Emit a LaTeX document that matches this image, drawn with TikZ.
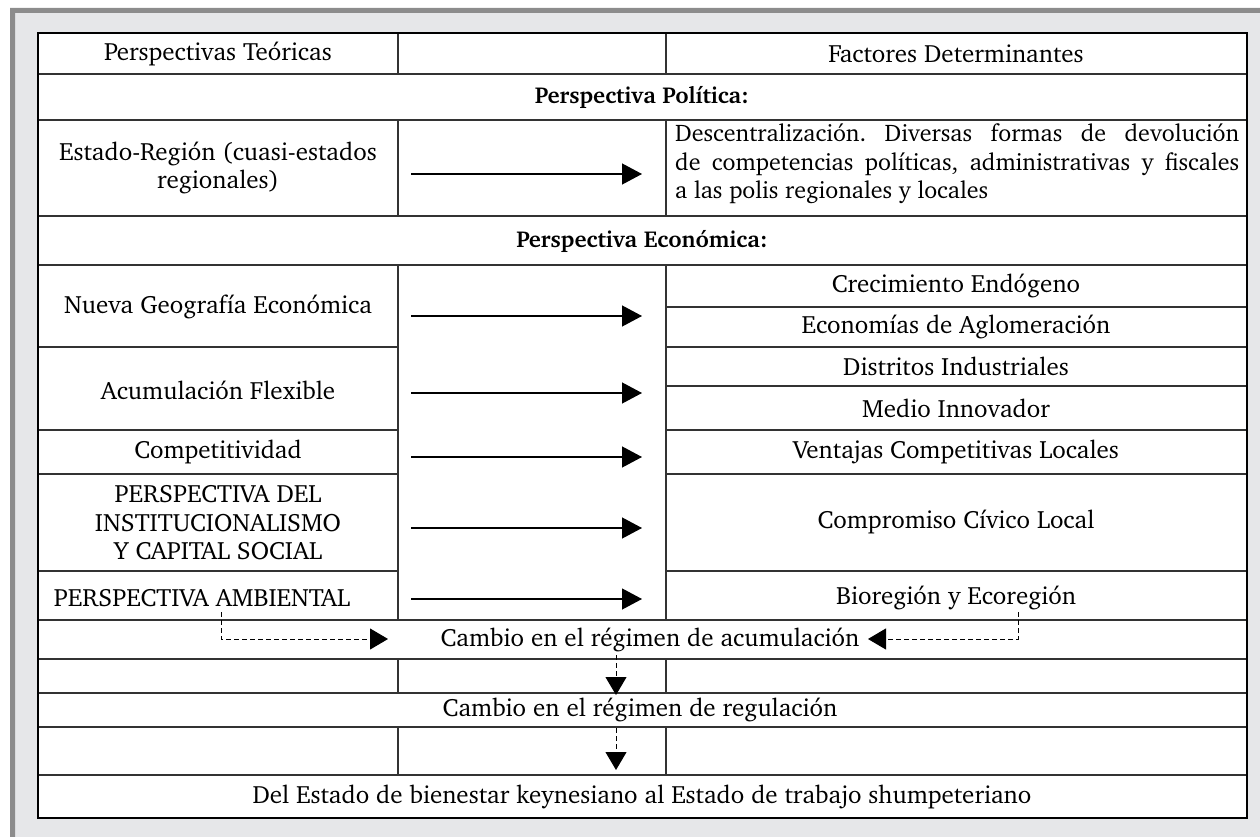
\documentclass[tikz,border=0pt]{standalone}
\usepackage[T1]{fontenc}
\usepackage{charter}
\usetikzlibrary{arrows.meta}

\definecolor{marco}{HTML}{8C8C8C}
\definecolor{fondo}{HTML}{E6E7E9}
\definecolor{linea}{HTML}{333333}

\tikzset{
  celda/.style={font=\fontsize{25}{28.5}\selectfont, align=center, inner sep=0pt},
  titulo/.style={celda, font=\fontsize{23}{28.5}\selectfont\bfseries},
  rejilla/.style={line width=1.1pt, draw=linea},
  flecha/.style={line width=1.2pt, -{Triangle[length=20pt,width=21pt]}},
  punteada/.style={line width=1pt, dash pattern=on 5pt off 3pt, -{Triangle[length=18pt,width=21pt]}}
}

\begin{document}
\frenchspacing
\begin{tikzpicture}[x=1pt,y=-1pt]

\useasboundingbox (0,0) rectangle (1260,837);

% marco gris
\fill[fondo] (10,8) rectangle (1260,837);
\fill[marco] (10,8) rectangle (1260,13)  (10,8) rectangle (15,837);
\fill[white] (38,33) rectangle (1247,818);

% rejilla de la tabla
\foreach \y in {74,120,216,265,620,659,693,727,775} \draw[rejilla] (38,\y) -- (1247,\y);
\foreach \y in {347,430,474,571} \draw[rejilla] (38,\y) -- (398,\y);
\foreach \y in {307,347,386,430,474,571} \draw[rejilla] (666,\y) -- (1247,\y);
\foreach \x in {398,666} \draw[rejilla] (\x,33) -- (\x,74)  (\x,120) -- (\x,216)  (\x,265) -- (\x,620)  (\x,659) -- (\x,693)  (\x,727) -- (\x,775);
\draw[line width=2pt] (38,33) rectangle (1247,818);

% textos
\node[celda] (teoricas) at (218,54) {Perspectivas Teóricas};
\node[celda] (factores) at (956,54) {Factores Determinantes};
\node[titulo] (politica) at (642,97) {Perspectiva Política:};
\node[celda] (estreg) at (218,168) {Estado-Región (cuasi-estados\\regionales)};
\node[celda, font=\fontsize{24}{28.5}\selectfont, align=justify, text width=564pt, anchor=west] (descen) at (675,164)
  {Descentralización. Diversas formas de devolución\linebreak de competencias políticas, administrativas y fiscales\linebreak a las polis regionales y locales};
\node[titulo] (economica) at (642,241) {Perspectiva Económica:};

\node[celda] (nueva) at (218,307) {Nueva Geografía Económica};
\node[celda] (flexible) at (218,390) {Acumulación Flexible};
\node[celda] (compet) at (218,452) {Competitividad};
\node[celda] (instit) at (218,523) {PERSPECTIVA DEL\\INSTITUCIONALISMO\\Y CAPITAL SOCIAL};
\node[celda] (ambiental) at (202,598) {PERSPECTIVA AMBIENTAL};

\node[celda] (endogeno) at (956,286) {Crecimiento Endógeno};
\node[celda] (aglomer) at (956,327) {Economías de Aglomeración};
\node[celda] (distritos) at (956,366) {Distritos Industriales};
\node[celda] (innovador) at (956,408) {Medio Innovador};
\node[celda] (ventajas) at (956,452) {Ventajas Competitivas Locales};
\node[celda] (civico) at (956,522) {Compromiso Cívico Local};
\node[celda] (bioreg) at (956,598) {Bioregión y Ecoregión};

\node[celda] (acumul) at (650,640) {Cambio en el régimen de acumulación};
\node[celda] (regul) at (640,710) {Cambio en el régimen de regulación};
\node[celda] (keynes) at (642,797) {Del Estado de bienestar keynesiano al Estado de trabajo shumpeteriano};

% flechas de la columna central
\foreach \y [count=\i] in {174,316,393,457,528,599} {
  \coordinate (ini\i) at (411,\y);
  \coordinate (fin\i) at (642,\y);
  \draw[flecha] (ini\i) -- (fin\i);
}

% flechas punteadas
\coordinate (izq) at (221,612);
\coordinate (izqfin) at (388,639);
\coordinate (der) at (1018,612);
\coordinate (derfin) at (868,639);
\draw[punteada] (izq) |- (izqfin);
\draw[punteada] (der) |- (derfin);

\coordinate (baja1) at (616,655);
\coordinate (baja1fin) at (616,695);
\coordinate (baja2) at (616,728);
\coordinate (baja2fin) at (616,770);
\draw[punteada] (baja1) -- (baja1fin);
\draw[punteada] (baja2) -- (baja2fin);

\end{tikzpicture}
\end{document}
